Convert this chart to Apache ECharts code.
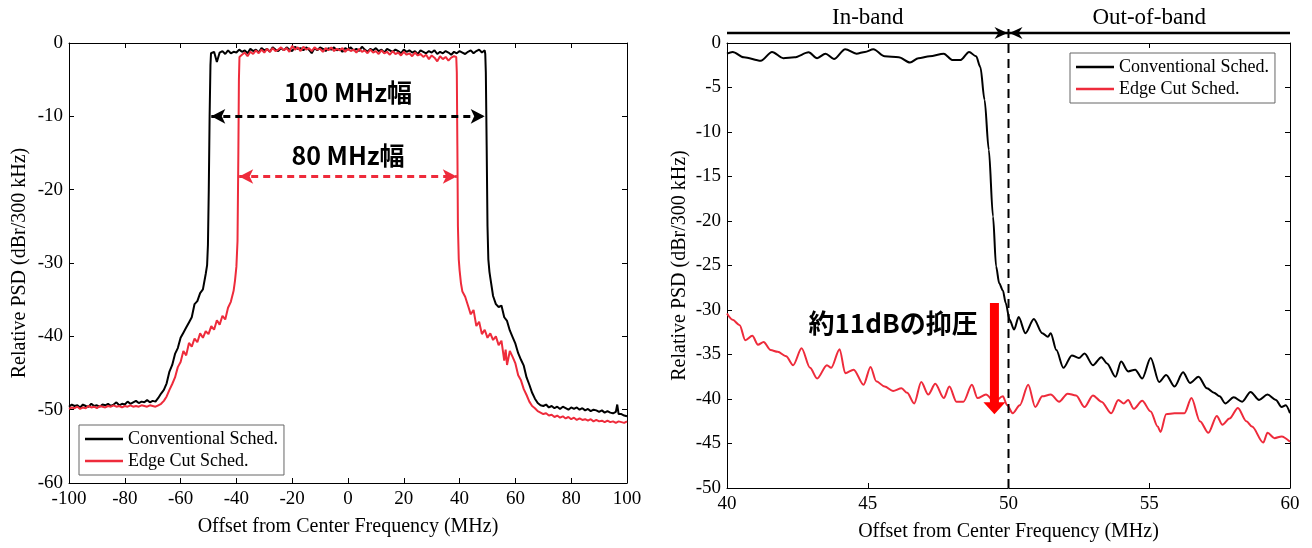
<!DOCTYPE html>
<html>
<head>
<meta charset="utf-8">
<script src="https://cdn.jsdelivr.net/npm/echarts@6/dist/echarts.min.js"></script>
<style>
  html, body { margin: 0; padding: 0; background: #fff; }
  #chart { width: 1312px; height: 548px; }
</style>
</head>
<body>
<div id="chart"></div>
<script>
// Left panel: full spectrum, [offset MHz, dBr]
const wideConv = [
  [-100,-49.6],[-99,-49.3],[-98,-49.5],[-97,-49.4],[-96,-49.7],[-95,-49.3],[-94,-49.5],[-93,-49.6],[-92,-49.2],[-91,-49.5],
  [-90,-49.4],[-89,-49.6],[-88,-49.3],[-87,-49.4],[-86,-49.2],[-85,-49.5],[-84,-49.3],[-83,-49.0],[-82,-49.4],[-81,-49.2],
  [-80,-49.3],[-79,-48.9],[-78,-49.2],[-77,-49.0],[-76,-48.8],[-75,-49.1],[-74,-48.9],[-73,-49.0],[-72,-48.7],[-71,-49.0],
  [-70,-48.8],[-69,-48.9],[-68,-48.4],[-67,-47.8],[-66,-47.3],[-65,-46.4],[-64,-44.8],[-63,-43.9],[-62,-42.4],[-61,-41.6],
  [-60,-40.2],[-59,-39.5],[-58,-38.8],[-57,-38.1],[-56,-37.4],[-55,-35.6],[-54,-35.2],[-53,-34.1],[-52,-33.6],[-51,-31.5],
  [-50.5,-30.3],[-50.2,-27.5],[-49.9,-20],[-49.6,-10],[-49.3,-3],[-49.1,-1.4],
  [-48,-1.2],[-47,-2.6],[-46,-1.3],[-45,-1.1],[-44,-1.5],[-43,-1.0],[-42,-1.4],[-41,-1.2],[-40,-1.3],[-39,-0.9],
  [-38,-1.2],[-37,-1.0],[-36,-1.4],[-35,-0.8],[-34,-1.1],[-33,-0.9],[-32,-1.3],[-31,-0.7],[-30,-1.0],[-29,-0.8],
  [-28,-1.2],[-27,-0.6],[-26,-0.9],[-25,-1.1],[-24,-0.7],[-23,-1.0],[-22,-0.6],[-21,-0.9],[-20,-1.1],[-19,-0.5],
  [-18,-0.8],[-17,-0.7],[-16,-1.0],[-15,-0.6],[-14,-0.9],[-13,-1.4],[-12,-0.7],[-11,-1.0],[-10,-0.6],[-9,-0.8],
  [-8,-1.1],[-7,-0.7],[-6,-0.9],[-5,-0.6],[-4,-1.0],[-3,-0.8],[-2,-1.2],[-1,-0.7],[0,-0.9],[1,-0.6],
  [2,-1.0],[3,-0.8],[4,-1.1],[5,-0.5],[6,-0.9],[7,-1.2],[8,-0.8],[9,-1.0],[10,-0.7],[11,-1.1],
  [12,-0.9],[13,-1.3],[14,-0.8],[15,-1.0],[16,-1.2],[17,-0.9],[18,-1.1],[19,-1.4],[20,-0.9],[21,-1.2],
  [22,-1.0],[23,-1.3],[24,-1.1],[25,-1.5],[26,-1.0],[27,-1.2],[28,-1.4],[29,-1.1],[30,-1.3],[31,-1.0],
  [32,-1.5],[33,-1.2],[34,-1.4],[35,-1.1],[36,-1.3],[37,-1.6],[38,-1.2],[39,-1.4],[40,-1.1],[41,-1.3],
  [42,-1.5],[43,-1.2],[44,-1.0],[45,-1.4],[46,-1.1],[47,-0.9],[48,-1.3],[49,-1.0],
  [49.2,-1.5],[49.4,-4],[49.7,-14],[50.0,-25],[50.3,-29.5],[50.7,-31.2],
  [51,-32.0],[52,-34.5],[53,-35.6],[54,-36.0],[55,-35.8],[56,-37.4],[57,-37.9],[58,-39.2],[59,-40.1],[60,-41.0],
  [61,-42.3],[62,-43.2],[63,-44.0],[64,-45.6],[65,-46.6],[66,-47.7],[67,-48.5],[68,-49.1],[69,-49.4],[70,-49.5],
  [71,-49.3],[72,-49.7],[73,-49.5],[74,-49.8],[75,-49.6],[76,-49.9],[77,-49.6],[78,-49.8],[79,-50.0],[80,-49.7],
  [81,-49.9],[82,-49.7],[83,-50.0],[84,-49.8],[85,-50.1],[86,-49.9],[87,-50.2],[88,-50.0],[89,-50.1],[90,-50.3],
  [91,-50.1],[92,-50.4],[93,-50.2],[94,-50.4],[95,-50.5],[96,-50.3],[96.5,-49.3],[97,-50.6],[98,-50.6],[99,-50.8],[100,-50.9]
];

const wideEdge = [
  [-100,-49.9],[-99,-49.7],[-98,-49.8],[-97,-49.6],[-96,-49.9],[-95,-49.7],[-94,-49.8],[-93,-49.5],[-92,-49.7],[-91,-49.6],
  [-90,-49.8],[-89,-49.5],[-88,-49.6],[-87,-49.7],[-86,-49.5],[-85,-49.6],[-84,-49.4],[-83,-49.6],[-82,-49.5],[-81,-49.7],
  [-80,-49.5],[-79,-49.6],[-78,-49.4],[-77,-49.6],[-76,-49.5],[-75,-49.6],[-74,-49.4],[-73,-49.5],[-72,-49.6],[-71,-49.4],
  [-70,-49.5],[-69,-49.6],[-68,-49.4],[-67,-49.2],[-66,-48.8],[-65,-48.2],[-64,-47.3],[-63,-46.5],[-62,-45.6],[-61,-44.2],
  [-60,-43.5],[-59,-42.0],[-58,-42.6],[-57,-40.9],[-56,-41.4],[-55,-40.3],[-54,-40.8],[-53,-39.6],[-52,-40.2],[-51,-39.3],
  [-50,-39.7],[-49,-38.6],[-48,-39.1],[-47,-37.8],[-46,-38.4],[-45,-37.2],[-44,-37.7],[-43,-36.1],[-42,-35.3],[-41,-33.8],
  [-40.5,-32.4],[-40,-30.5],[-39.6,-27],[-39.3,-15],[-39.1,-5],[-38.9,-1.9],
  [-38,-1.6],[-37,-1.3],[-36,-1.8],[-35,-1.2],[-34,-1.5],[-33,-1.0],[-32,-1.4],[-31,-0.9],[-30,-1.3],[-29,-0.8],
  [-28,-1.2],[-27,-0.7],[-26,-1.1],[-25,-0.9],[-24,-0.6],[-23,-1.0],[-22,-0.7],[-21,-1.2],[-20,-0.4],[-19,-0.9],
  [-18,-0.6],[-17,-1.1],[-16,-0.5],[-15,-0.9],[-14,-0.7],[-13,-1.1],[-12,-0.6],[-11,-0.9],[-10,-0.8],[-9,-1.2],
  [-8,-0.7],[-7,-1.0],[-6,-0.6],[-5,-1.1],[-4,-0.8],[-3,-1.0],[-2,-0.7],[-1,-1.2],[0,-0.8],[1,-1.1],
  [2,-0.9],[3,-1.3],[4,-0.8],[5,-1.2],[6,-1.0],[7,-1.4],[8,-0.9],[9,-1.3],[10,-1.1],[11,-1.5],
  [12,-1.0],[13,-1.4],[14,-1.2],[15,-1.6],[16,-1.1],[17,-1.5],[18,-1.3],[19,-1.7],[20,-1.2],[21,-1.6],
  [22,-1.4],[23,-1.8],[24,-1.3],[25,-1.7],[26,-1.5],[27,-1.9],[28,-1.6],[29,-2.2],[30,-1.7],[31,-2.0],
  [32,-2.5],[33,-1.8],[34,-2.2],[35,-1.9],[36,-2.4],[37,-2.0],[38,-1.8],[38.8,-1.9],
  [39.0,-4],[39.2,-14],[39.4,-25],[39.7,-29.5],[40,-31.0],[40.5,-32.8],
  [41,-33.9],[42,-34.6],[43,-35.8],[44,-37.0],[45,-36.4],[46,-38.6],[47,-38.0],[48,-39.7],[49,-39.1],[50,-40.2],
  [51,-39.6],[52,-40.5],[53,-40.0],[54,-41.2],[55,-40.6],[56,-43.3],[56.5,-41.8],[57,-43.9],[58,-42.0],[59,-42.8],
  [60,-43.7],[61,-45.3],[62,-46.0],[63,-47.2],[64,-48.0],[65,-48.9],[66,-49.5],[67,-49.8],[68,-50.2],[69,-50.4],
  [70,-50.6],[71,-50.5],[72,-50.8],[73,-50.7],[74,-51.0],[75,-50.8],[76,-51.1],[77,-50.9],[78,-51.2],[79,-51.0],
  [80,-51.3],[81,-51.1],[82,-51.4],[83,-51.2],[84,-51.4],[85,-51.3],[86,-51.5],[87,-51.3],[88,-51.6],[89,-51.4],
  [90,-51.6],[91,-51.5],[92,-51.7],[93,-51.5],[94,-51.7],[95,-51.6],[96,-51.8],[97,-51.6],[98,-51.7],[99,-51.8],[100,-51.6]
];

// Right panel: band edge detail
const zoomConv = [
  [40.0,-1.2],[40.2,-1.0],[40.6,-1.6],[41.2,-2.0],[41.6,-1.0],[42.0,-1.7],[42.4,-1.6],[42.9,-1.05],[43.2,-1.7],[43.5,-1.2],
  [43.8,-1.8],[44.2,-0.7],[44.6,-1.2],[44.9,-1.0],[45.2,-0.7],[45.6,-1.5],[46.1,-1.6],[46.5,-2.2],[46.8,-1.7],[47.2,-1.5],
  [47.7,-1.2],[48.0,-1.9],[48.3,-1.9],[48.6,-1.0],[48.85,-1.5],[49.0,-2.7],[49.15,-6.4],[49.3,-12],[49.45,-19.5],[49.56,-25.1],
  [49.67,-27],[49.8,-27.8],[49.9,-29.2],[50.04,-31.1],[50.2,-32.2],[50.36,-30.8],[50.6,-32.6],[50.9,-31.0],[51.2,-32.6],[51.4,-33.0],
  [51.5,-32.6],[51.7,-34.5],[51.95,-36.5],[52.25,-35.1],[52.5,-35.4],[52.7,-34.9],[53.0,-36.2],[53.3,-35.3],[53.5,-36.0],[53.8,-37.5],
  [54.0,-35.8],[54.25,-36.9],[54.5,-36.7],[54.75,-37.7],[55.05,-35.4],[55.35,-38.1],[55.6,-37.3],[55.9,-38.6],[56.2,-37.0],[56.45,-38.2],
  [56.75,-37.5],[57.05,-38.8],[57.3,-39.3],[57.5,-39.7],[57.7,-40.5],[58.0,-39.8],[58.3,-40.3],[58.6,-39.2],[58.9,-40.1],[59.2,-39.5],
  [59.5,-40.1],[59.7,-40.9],[59.85,-40.7],[60.0,-41.6]
];

const zoomEdge = [
  [40.0,-30.4],[40.2,-31.1],[40.45,-31.7],[40.65,-33.4],[40.9,-32.9],[41.1,-33.9],[41.3,-33.6],[41.55,-34.5],[41.8,-34.7],[42.1,-35.2],
  [42.35,-36.2],[42.65,-34.3],[42.95,-36.5],[43.2,-37.7],[43.55,-36.2],[43.7,-36.5],[44.0,-34.4],[44.2,-37.1],[44.5,-36.7],[44.85,-38.4],
  [45.1,-36.4],[45.3,-38.0],[45.6,-38.6],[45.9,-39.1],[46.2,-38.8],[46.4,-39.3],[46.65,-40.5],[46.9,-38.1],[47.15,-39.5],[47.4,-38.3],
  [47.7,-39.9],[47.9,-38.6],[48.15,-40.3],[48.4,-40.3],[48.7,-38.4],[48.9,-39.9],[49.2,-39.5],[49.5,-40.3],[49.8,-39.7],[49.95,-40.7],
  [50.15,-41.6],[50.4,-40.7],[50.7,-38.4],[50.95,-40.9],[51.2,-39.7],[51.5,-39.5],[51.8,-40.3],[52.1,-39.4],[52.4,-39.6],[52.7,-40.9],
  [53.0,-39.6],[53.3,-40.3],[53.65,-41.6],[53.9,-40.1],[54.1,-40.5],[54.25,-40.1],[54.45,-41.1],[54.75,-40.2],[55.05,-41.4],[55.3,-43.1],
  [55.4,-43.7],[55.6,-41.7],[55.9,-41.6],[56.25,-41.6],[56.5,-39.9],[56.8,-42.5],[57.1,-43.8],[57.4,-41.9],[57.6,-42.9],[57.85,-42.2],
  [58.15,-41.0],[58.45,-42.5],[58.65,-43.1],[59.05,-44.9],[59.2,-43.8],[59.45,-44.4],[59.7,-44.2],[60.0,-44.8]
];

const seriesNames = ['Conventional Sched.', 'Edge Cut Sched.'];

// annotation values (data units)
const convWidth = [-49, 49], convArrowLevel = -10, convLabel = '100 MHz幅', convLabelLevel = -6.7;
const edgeWidth = [-39, 39], edgeArrowLevel = -18.2, edgeLabel = '80 MHz幅', edgeLabelLevel = -15.3;
const bandEdge = 50;
const suppressX = 49.5, suppressFrom = -29.2, suppressTo = -41.7;
const suppressLabel = '約11dBの抑圧', suppressLabelAt = [45.9, -31.5];

const SERIF = '"Liberation Serif", "Times New Roman", serif';
const CJK = '"Noto Sans CJK JP", "Noto Sans", sans-serif';
const BLACK = '#000';
const RED = '#ee2b3b';

function xAxisPair(grid, min, max, interval) {
  const base = {
    gridIndex: grid, type: 'value', min: min, max: max, interval: interval,
    axisLine: { show: true, onZero: false, lineStyle: { color: BLACK, width: 1 } },
    axisTick: { inside: true, length: 5, lineStyle: { color: BLACK } },
    splitLine: { show: false }
  };
  return [
    Object.assign({}, base, {
      position: 'bottom',
      name: 'Offset from Center Frequency (MHz)', nameLocation: 'middle', nameGap: 34,
      nameTextStyle: { fontFamily: SERIF, fontSize: 20, color: BLACK },
      axisLabel: { fontFamily: SERIF, fontSize: 19, color: BLACK, margin: 7 }
    }),
    Object.assign({}, base, { position: 'top', axisLabel: { show: false } })
  ];
}

function yAxisPair(grid, min, max, interval, nameGap) {
  const base = {
    gridIndex: grid, type: 'value', min: min, max: max, interval: interval,
    axisLine: { show: true, onZero: false, lineStyle: { color: BLACK, width: 1 } },
    axisTick: { inside: true, length: 5, lineStyle: { color: BLACK } },
    splitLine: { show: false }
  };
  return [
    Object.assign({}, base, {
      position: 'left',
      name: 'Relative PSD (dBr/300 kHz)', nameLocation: 'middle', nameGap: nameGap,
      nameTextStyle: { fontFamily: SERIF, fontSize: 20, color: BLACK },
      axisLabel: { fontFamily: SERIF, fontSize: 19, color: BLACK, margin: 6 }
    }),
    Object.assign({}, base, { position: 'right', axisLabel: { show: false } })
  ];
}

function legendAt(left, top) {
  return {
    data: seriesNames, orient: 'vertical', left: left, top: top,
    padding: [5, 6, 5, 6], itemGap: 4, itemWidth: 38, itemHeight: 2.5, icon: 'rect',
    textStyle: { fontFamily: SERIF, fontSize: 18, color: BLACK },
    borderColor: '#666', borderWidth: 1, backgroundColor: '#fff',
    selectedMode: false
  };
}

const chart = echarts.init(document.getElementById('chart'), null, { renderer: 'canvas' });

const option = {
  animation: false,
  backgroundColor: '#fff',
  grid: [
    { left: 69, top: 43, width: 558, height: 440 },
    { left: 727, top: 43, width: 563, height: 445 }
  ],
  xAxis: [].concat(xAxisPair(0, -100, 100, 20), xAxisPair(1, 40, 60, 5)),
  yAxis: [].concat(yAxisPair(0, -60, 0, 10, 39), yAxisPair(1, -50, 0, 5, 37)),
  legend: [legendAt(79, 425), legendAt(1070, 53)],
  series: [
    {
      name: seriesNames[0], type: 'line', xAxisIndex: 0, yAxisIndex: 0,
      data: wideConv, symbol: 'none', lineStyle: { color: BLACK, width: 2 }, itemStyle: { color: BLACK },
      markLine: {
        silent: true, symbol: ['arrow', 'arrow'], symbolSize: [11, 14], label: { show: false },
        lineStyle: { color: BLACK, type: [7, 5], width: 3 },
        data: [[{ coord: [convWidth[0], convArrowLevel] }, { coord: [convWidth[1], convArrowLevel] }]]
      }
    },
    {
      name: seriesNames[1], type: 'line', xAxisIndex: 0, yAxisIndex: 0,
      data: wideEdge, symbol: 'none', lineStyle: { color: RED, width: 2 }, itemStyle: { color: RED },
      markLine: {
        silent: true, symbol: ['arrow', 'arrow'], symbolSize: [11, 14], label: { show: false },
        lineStyle: { color: RED, type: [7, 5], width: 3 },
        data: [[{ coord: [edgeWidth[0], edgeArrowLevel] }, { coord: [edgeWidth[1], edgeArrowLevel] }]]
      }
    },
    {
      name: seriesNames[0], type: 'line', xAxisIndex: 2, yAxisIndex: 2,
      data: zoomConv, symbol: 'none', smooth: 0.3, smoothMonotone: 'x',
      lineStyle: { color: BLACK, width: 2 }, itemStyle: { color: BLACK }
    },
    {
      name: seriesNames[1], type: 'line', xAxisIndex: 2, yAxisIndex: 2,
      data: zoomEdge, symbol: 'none', smooth: 0.3, smoothMonotone: 'x',
      lineStyle: { color: RED, width: 2 }, itemStyle: { color: RED }
    }
  ]
};

chart.setOption(option);

// annotations placed through the axes
const leftPx = (x, y) => chart.convertToPixel({ xAxisIndex: 0, yAxisIndex: 0 }, [x, y]);
const rightPx = (x, y) => chart.convertToPixel({ xAxisIndex: 2, yAxisIndex: 2 }, [x, y]);

const c1 = leftPx(0, convLabelLevel);
const c2 = leftPx(0, edgeLabelLevel);
const rTop = rightPx(40, 0);
const rEnd = rightPx(60, -50);
const edgeX = rightPx(bandEdge, 0)[0];
const bandY = 33;
const inTxt = rightPx(45, 0)[0];
const outTxt = rightPx(55, 0)[0];
const sTop = rightPx(suppressX, suppressFrom);
const sTip = rightPx(suppressX, suppressTo);
const sLbl = rightPx(suppressLabelAt[0], suppressLabelAt[1]);

const bigText = (x, y, text, size) => ({
  type: 'text', x: x, y: y, z: 100,
  style: { text: text, fill: BLACK, font: 'bold ' + size + 'px ' + CJK, align: 'center', verticalAlign: 'middle' }
});

chart.setOption({
  graphic: [
    bigText(c1[0], c1[1], convLabel, 25),
    bigText(c2[0], c2[1], edgeLabel, 25),
    // in-band / out-of-band bar
    { type: 'line', z: 100, shape: { x1: rTop[0], y1: bandY, x2: rEnd[0], y2: bandY }, style: { stroke: BLACK, lineWidth: 2.5 } },
    { type: 'polygon', z: 101, shape: { points: [[edgeX - 1, bandY], [edgeX - 14, bandY - 6], [edgeX - 10, bandY], [edgeX - 14, bandY + 6]] }, style: { fill: BLACK } },
    { type: 'polygon', z: 101, shape: { points: [[edgeX + 1, bandY], [edgeX + 14, bandY - 6], [edgeX + 10, bandY], [edgeX + 14, bandY + 6]] }, style: { fill: BLACK } },
    { type: 'line', z: 100, shape: { x1: edgeX, y1: bandY - 4, x2: edgeX, y2: rEnd[1] }, style: { stroke: BLACK, lineWidth: 2, lineDash: [9, 6] } },
    { type: 'text', x: inTxt, y: 18, z: 100, style: { text: 'In-band', fill: BLACK, font: '23px ' + SERIF, align: 'center', verticalAlign: 'middle' } },
    { type: 'text', x: outTxt, y: 18, z: 100, style: { text: 'Out-of-band', fill: BLACK, font: '23px ' + SERIF, align: 'center', verticalAlign: 'middle' } },
    // suppression arrow
    { type: 'rect', z: 100, shape: { x: sTop[0] - 4.5, y: sTop[1], width: 9, height: sTip[1] - sTop[1] - 11 }, style: { fill: '#f00' } },
    { type: 'polygon', z: 100, shape: { points: [[sTip[0] - 11, sTip[1] - 12], [sTip[0] + 11, sTip[1] - 12], [sTip[0], sTip[1]]] }, style: { fill: '#f00' } },
    bigText(sLbl[0], sLbl[1], suppressLabel, 26)
  ]
});

window.addEventListener('resize', () => chart.resize());
</script>
</body>
</html>
